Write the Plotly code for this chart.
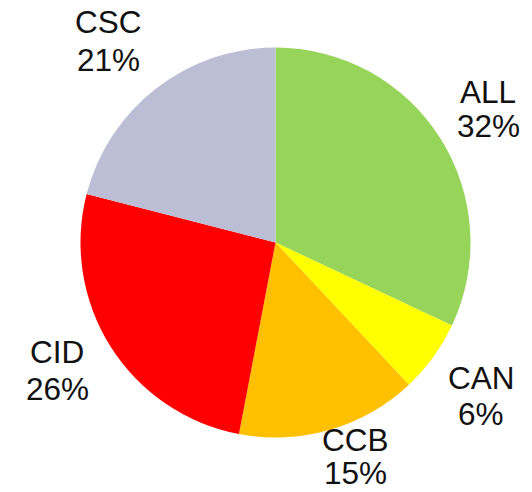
import plotly.graph_objects as go

labels = ["ALL", "CAN", "CCB", "CID", "CSC"]
values = [32, 6, 15, 26, 21]
colors = ["#96D45A", "#FFFF00", "#FFC000", "#FF0000", "#BCBED6"]
# label positions in page pixels: (x centre, name line y, percent line y)
label_px = [(488, 91.5, 126.5), (481, 377.5, 414), (355, 440, 473),
            (57, 351.5, 388.5), (108, 21.5, 59.5)]

W, H = 532, 492

def fx(px):
    return px / W

def fy(py):
    return 1 - py / H

fig = go.Figure(go.Pie(
    labels=labels, values=values, sort=False, direction="clockwise", rotation=0,
    marker=dict(colors=colors, line=dict(width=0)),
    textinfo="none", hoverinfo="label+percent",
    domain=dict(x=[fx(80.5), fx(470.5)], y=[fy(437.5), fy(47.5)]),
    showlegend=False,
))

total = sum(values)
font = dict(family="Liberation Sans, Arial, sans-serif", size=31.5, color="#111111")
for lab, v, (px, py1, py2) in zip(labels, values, label_px):
    for txt, py in ((lab, py1), (f"{round(100 * v / total)}%", py2)):
        fig.add_annotation(
            x=fx(px), y=fy(py), xref="paper", yref="paper",
            text=txt, showarrow=False, xanchor="center", yanchor="middle",
            font=font,
        )

fig.update_layout(
    width=W, height=H, margin=dict(l=0, r=0, t=0, b=0),
    paper_bgcolor="white", plot_bgcolor="white",
)
fig.write_html(
    "out.html",
    config={"displayModeBar": False},
    post_script="document.body.style.margin='0';document.body.style.overflow='hidden';",
)
